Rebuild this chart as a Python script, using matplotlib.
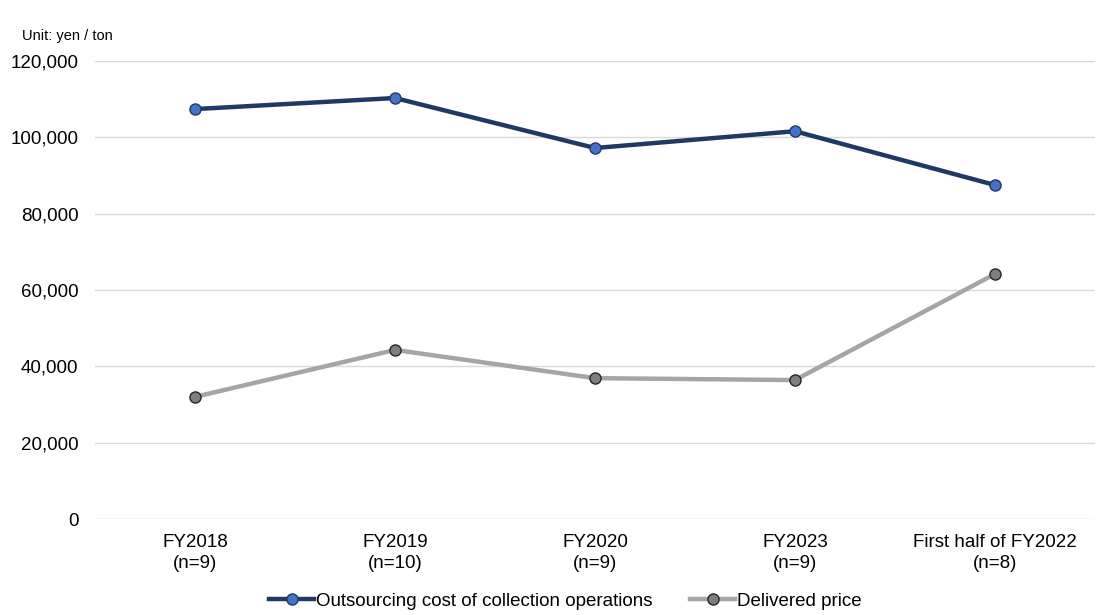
import matplotlib
matplotlib.use("Agg")
import matplotlib.pyplot as plt
from matplotlib.ticker import FuncFormatter

plt.rcParams['font.family'] = ['Liberation Sans', 'DejaVu Sans']

categories = ["FY2018\n(n=9)", "FY2019\n(n=10)", "FY2020\n(n=9)", "FY2023\n(n=9)", "First half of FY2022\n(n=8)"]
outsourcing = [107400, 110300, 97200, 101600, 87500]
delivered = [32000, 44300, 36900, 36400, 64200]
yticks = [0, 20000, 40000, 60000, 80000, 100000, 120000]

fig = plt.figure(figsize=(11.13, 6.15), dpi=100)
W, H = 1113, 615
ax = fig.add_axes([95 / W, 1 - 519 / H, 1000 / W, 458 / H])

x = list(range(len(categories)))
ax.plot(x, outsourcing, color='#203864', lw=3.2, marker='o', ms=8,
        mfc='#4472C4', mec='#203864', mew=1.0,
        label='Outsourcing cost of collection operations', zorder=3)
ax.plot(x, delivered, color='#A5A5A5', lw=3.2, marker='o', ms=8,
        mfc='#7F7F7F', mec='#262626', mew=1.0,
        label='Delivered price', zorder=3)

ax.set_xlim(-0.5, len(categories) - 0.5)
ax.set_ylim(0, 120000)
ax.set_yticks(yticks)
ax.yaxis.set_major_formatter(FuncFormatter(lambda v, p: f"{int(v):,}"))
ax.set_xticks(x)
ax.set_xticklabels(categories, fontsize=13.5, linespacing=1.3)
ax.tick_params(axis='y', labelsize=13.5, length=0, pad=12)
ax.tick_params(axis='x', length=0, pad=11)
ax.grid(axis='y', color='#D9D9D9', lw=1.0)
ax.set_axisbelow(True)
for s in ax.spines.values():
    s.set_visible(False)

fig.text(22 / W, 1 - 36 / H, "Unit: yen / ton", fontsize=10.5, va='center', ha='left')

fig.legend(loc='center', bbox_to_anchor=(0.508, 1 - 601 / H), ncol=2, frameon=False,
           fontsize=13.5, handlelength=2.4, handletextpad=0.1, columnspacing=2.0)

fig.savefig("out.png", dpi=100)
